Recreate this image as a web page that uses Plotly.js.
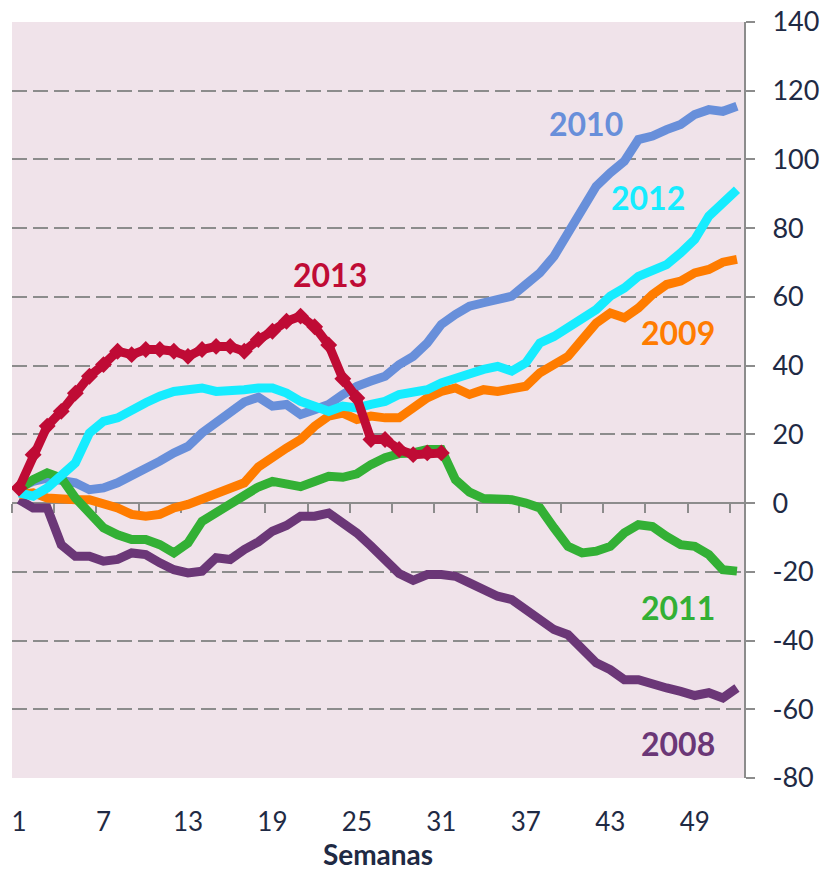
<!DOCTYPE html>
<html>
<head>
<meta charset="utf-8">
<script src="https://cdn.plot.ly/plotly-3.0.1.min.js"></script>
<style>html,body{margin:0;padding:0;background:#fff;}#chart{width:824px;height:872px;}</style>
</head>
<body>
<div id="chart"></div>
<script>
const weeks = Array.from({length: 52}, (_, i) => i + 1);
const xTickLabels = [1, 7, 13, 19, 25, 31, 37, 43, 49];
const yTicks = [-80, -60, -40, -20, 0, 20, 40, 60, 80, 100, 120, 140];

const y2008 = [1, -1.4, -1.4, -12.1, -15.5, -15.5, -16.9, -16.4, -14.5, -15, -17.4, -19.4, -20.3, -19.8, -15.9, -16.4, -13.5, -11.3, -8.2, -6.5, -3.8, -3.8, -2.9, -5.5, -8.7, -12.5, -16.9, -20.5, -22.5, -20.8, -20.8, -21.3, -23.2, -25.2, -27.1, -28.1, -31, -33.9, -36.8, -38.3, -42.6, -46.5, -48.5, -51.4, -51.4, -52.8, -53.8, -54.8, -56, -55.2, -56.7, -53.8];
const y2009 = [2.5, 3, 1.5, 1, 1, 1, 0, -1.4, -3.3, -3.8, -3.3, -1.4, -0.4, 1, 2.5, 4.4, 5.9, 10.5, 13.6, 16, 18.5, 22.4, 25.3, 26.2, 24.3, 25.3, 24.8, 24.8, 27.7, 30.6, 32.5, 33.5, 31.6, 33, 32.5, 33, 34, 37.9, 40.3, 42.7, 47.6, 52.4, 55.3, 53.9, 56.8, 60.7, 63.6, 64.6, 67, 68, 70.1, 70.9];
const y2010 = [4.5, 6.3, 7.3, 6.8, 5.9, 3.9, 4.4, 5.9, 7.8, 10.2, 12.2, 14.6, 16.5, 20.4, 23.3, 26.7, 29.4, 30.8, 28.2, 28.7, 25.8, 27.2, 28.7, 31.6, 34, 35.5, 36.9, 40.3, 42.7, 46.6, 52, 54.9, 57.3, 58.3, 59.2, 60.2, 63.6, 67, 71.8, 78.6, 84.5, 92.2, 96.1, 99.5, 105.8, 106.8, 108.7, 110.2, 113.1, 114.5, 114, 115.5];
const y2011 = [4, 6.8, 8.8, 7.3, 1.5, -2.4, -7.2, -9.2, -10.6, -10.6, -12.1, -14.5, -11.6, -5.3, -2.9, -0.4, 2.5, 4.7, 6.3, 5.6, 4.8, 6.3, 7.8, 7.5, 8.5, 11.2, 13.2, 14.4, 14.6, 15.6, 15.6, 6.8, 3.2, 1.3, 1, 1, 0, -1.4, -7.2, -12.6, -14.5, -14, -12.6, -8.7, -6.3, -6.8, -9.7, -12.1, -12.6, -15, -19.4, -19.8];
const y2012 = [3, 2, 4.4, 7.8, 11.7, 20.4, 23.8, 24.8, 27.2, 29.2, 31.1, 32.5, 33, 33.5, 32.5, 32.5, 33, 33.5, 33.5, 32, 29.6, 28.2, 26.7, 28.2, 27.7, 28.7, 29.6, 31.6, 32.5, 33, 35, 36.4, 37.9, 38.9, 39.8, 38.4, 40.8, 46.6, 48.5, 51, 53.4, 56.3, 60.2, 62.6, 66, 67.5, 69.4, 72.8, 76.7, 83.5, 87.8, 91.2];
const y2013 = [4.4, 14.1, 22.4, 26.7, 32, 36.9, 40.3, 44.2, 43.2, 44.7, 44.7, 44.2, 42.7, 44.7, 45.6, 45.6, 44.2, 47.6, 50, 52.9, 54.4, 51.3, 46, 36.2, 30.6, 18.5, 18.5, 15.6, 14.1, 14.6, 14.6];

const seriesNames = ['2008', '2009', '2010', '2011', '2012', '2013'];
const seriesValues = [y2008, y2009, y2010, y2011, y2012, y2013];
const colors = ['#6B3777', '#FF7C00', '#688FDA', '#33B035', '#16ECFF', '#BF0B35'];
// label anchor positions in data units (week, value)
const labelPos = [[47.8, -70], [47.8, 49.5], [41.3, 110.6], [47.8, -30.3], [45.7, 88.8], [23.1, 66.6]];

const textColor = '#1F2A44';
const gridColor = '#8C8C8C';
const font = 'Lato, "Open Sans", sans-serif';

const traces = seriesNames.map((n, k) => {
  const vals = seriesValues[k];
  const t = {
    type: 'scatter',
    mode: n === '2013' ? 'lines+markers' : 'lines',
    name: n,
    x: weeks.slice(0, vals.length),
    y: vals,
    line: {color: colors[k], width: 9},
    hoverinfo: 'x+y+name'
  };
  if (n === '2013') t.marker = {symbol: 'diamond', size: 13, color: colors[k]};
  return t;
});
// dummy trace so the y=0 category axis is drawn
traces.unshift({type: 'scatter', x: [], y: [], xaxis: 'x2', yaxis: 'y', showlegend: false, hoverinfo: 'skip'});

const boundaryTicks = [];
for (let v = 0.5; v < 52; v += 3) boundaryTicks.push(v);

const annotations = seriesNames.map((n, k) => ({
  x: labelPos[k][0], y: labelPos[k][1], xref: 'x', yref: 'y',
  text: '<b>' + n + '</b>', showarrow: false,
  font: {family: font, size: 32, color: colors[k]},
  xanchor: 'center', yanchor: 'middle'
}));

const layout = {
  width: 824, height: 872,
  margin: {l: 12, r: 80, t: 22, b: 94},
  paper_bgcolor: '#ffffff',
  plot_bgcolor: '#F0E3EA',
  showlegend: false,
  font: {family: font, color: textColor},
  xaxis: {
    range: [0.5, 52.5],
    tickvals: xTickLabels,
    ticktext: xTickLabels.map(String),
    ticks: '', showgrid: false, zeroline: false, showline: false,
    tickfont: {family: font, size: 26, color: textColor},
    ticklabelstandoff: 26,
    title: {text: '<b>Semanas</b>', font: {family: font, size: 28, color: textColor}, standoff: 6}
  },
  xaxis2: {
    overlaying: 'x', anchor: 'free', position: 80 / 220, side: 'bottom',
    range: [0.5, 52.5],
    tickvals: boundaryTicks, showticklabels: false,
    ticks: 'outside', ticklen: 9, tickwidth: 2, tickcolor: gridColor,
    showline: true, linecolor: gridColor, linewidth: 2,
    showgrid: false, zeroline: false, layer: 'below traces'
  },
  yaxis: {
    side: 'right',
    range: [-80, 140],
    tickvals: yTicks,
    ticktext: yTicks.map(String),
    showgrid: true, gridcolor: gridColor, gridwidth: 2, griddash: '15px,6px',
    zeroline: false,
    showline: true, linecolor: gridColor, linewidth: 2,
    ticks: 'outside', ticklen: 9, tickwidth: 2, tickcolor: gridColor,
    ticklabelstandoff: 12,
    tickfont: {family: font, size: 27, color: textColor}
  },
  annotations: annotations
};

Plotly.newPlot('chart', traces, layout, {displayModeBar: false, staticPlot: true});
</script>
</body>
</html>
